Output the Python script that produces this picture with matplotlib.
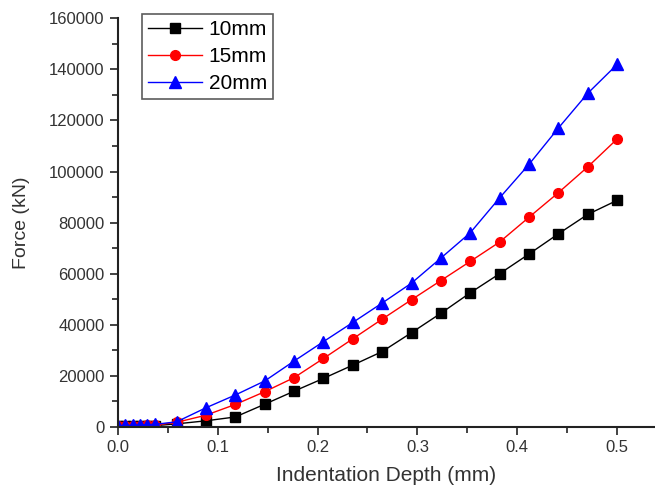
import matplotlib
matplotlib.use("Agg")
import matplotlib.pyplot as plt
from matplotlib.ticker import MultipleLocator

plt.rcParams['font.family'] = ['Liberation Sans', 'DejaVu Sans']

depth = [0.0, 0.0074, 0.0147, 0.0221, 0.0294, 0.0368, 0.0588, 0.0882, 0.1176,
         0.1471, 0.1765, 0.2059, 0.2353, 0.2647, 0.2941, 0.3235, 0.3529,
         0.3824, 0.4118, 0.4412, 0.4706, 0.5]

force_10mm = [200, 250, 300, 350, 400, 500, 1200, 2400, 3900,
              8900, 14000, 19000, 24200, 29500, 36900, 44500, 52500,
              60000, 67700, 75600, 83200, 88700]
force_15mm = [300, 350, 400, 500, 600, 700, 1800, 4600, 8800,
              13800, 19300, 26800, 34500, 42200, 49800, 57300, 64800,
              72400, 82100, 91700, 101800, 112700]
force_20mm = [500, 600, 700, 800, 900, 1000, 2000, 7500, 12500,
              18000, 25800, 33400, 40900, 48500, 56300, 66100, 76000,
              89700, 102800, 117000, 130600, 141900]

labels = ["10mm", "15mm", "20mm"]

fig = plt.figure(figsize=(6.55, 4.93), dpi=100)
ax = fig.add_axes([0.18, 0.134, 0.82, 0.829])

ax.plot(depth, force_10mm, color='black', marker='s', markersize=7, lw=1, label=labels[0])
ax.plot(depth, force_15mm, color='red', marker='o', markersize=7, lw=1, label=labels[1])
ax.plot(depth, force_20mm, color='blue', marker='^', markersize=8, lw=1, label=labels[2])

ax.set_xlim(0, 0.538)
ax.set_ylim(0, 160000)
ax.xaxis.set_major_locator(MultipleLocator(0.1))
ax.xaxis.set_minor_locator(MultipleLocator(0.05))
ax.yaxis.set_major_locator(MultipleLocator(20000))
ax.yaxis.set_minor_locator(MultipleLocator(10000))
ax.xaxis.set_major_formatter(plt.FuncFormatter(lambda v, p: f"{v:.1f}"))
ax.yaxis.set_major_formatter(plt.FuncFormatter(lambda v, p: f"{int(round(v))}"))

for s in ['top', 'right']:
    ax.spines[s].set_visible(False)
for s in ['left', 'bottom']:
    ax.spines[s].set_linewidth(1.5)
    ax.spines[s].set_color('#222222')

ax.tick_params(which='major', direction='out', length=6, width=1.2, labelsize=12, colors='#222222', labelcolor='#333333')
ax.tick_params(which='minor', direction='out', length=4, width=1.2, colors='#222222')

ax.set_xlabel("Indentation Depth (mm)", fontsize=15, color='#333333', labelpad=8)
ax.set_ylabel("Force (kN)", fontsize=14, color='#333333', labelpad=14)

leg = ax.legend(loc='upper left', bbox_to_anchor=(0.045, 1.01), fontsize=15,
                frameon=True, fancybox=False, handlelength=2.6, borderpad=0.3,
                labelspacing=0.38, handletextpad=0.3, borderaxespad=0)
leg.get_frame().set_edgecolor('#333333')
leg.get_frame().set_linewidth(1.2)

fig.savefig("out.png", dpi=100)
